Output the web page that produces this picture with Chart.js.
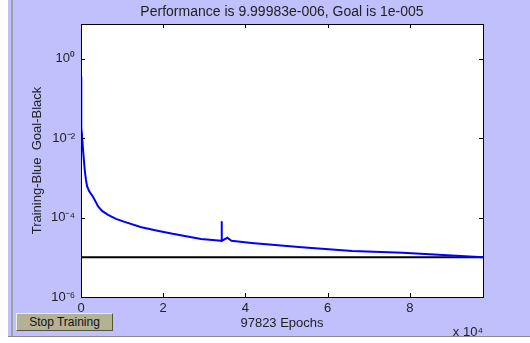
<!DOCTYPE html>
<html>
<head>
<meta charset="utf-8">
<script src="https://cdn.jsdelivr.net/npm/chart.js@4/dist/chart.umd.min.js"></script>
<style>
  html, body { margin: 0; padding: 0; background: #fff; }
  #frame { position: absolute; left: 0; top: 0; width: 530px; height: 343px; overflow: hidden; }
  #bg { position: absolute; left: 8px; top: 0; width: 522px; height: 336px; background: #c0c0fc;
        border-bottom: 1px solid #8a8a8a; }
  #edge { position: absolute; left: 11px; top: 0; width: 2px; height: 336px; background: #a0a0a8; }
  #chart { position: absolute; left: 0; top: 0; }
  #stop { position: absolute; left: 16px; top: 313px; width: 97px; height: 18px; box-sizing: border-box;
          background: #b4b294; border: 1px solid #55553f; border-left-color: #eeeedc; border-top-color: #eeeedc;
          font: 12px "Liberation Sans", Arial, sans-serif; color: #111; text-align: center; line-height: 16px; }
</style>
</head>
<body>
<div id="frame">
  <div id="bg"></div>
  <div id="edge"></div>
  <canvas id="chart" width="530" height="343"></canvas>
  <div id="stop">Stop Training</div>
</div>
<script>
// training record
const epochs = [0, 70, 250, 500, 900, 1200, 1470, 2000, 2950, 4170, 5200, 6600, 8500, 10800, 14700, 18900, 22300,
  29200, 34100, 34200, 34300, 35600, 36600, 41500, 53700, 66000, 78300, 88100, 97823];
const perf = [0.35, 0.018, 0.012, 0.005, 0.0016, 9e-4, 6.2e-4, 4.6e-4, 3.3e-4, 1.9e-4, 1.45e-4, 1.17e-4, 9.3e-5, 7.7e-5,
  5.7e-5, 4.6e-5, 3.9e-5, 2.9e-5, 2.6e-5, 8.1e-5, 2.6e-5, 3.1e-5, 2.6e-5, 2.3e-5, 1.8e-5, 1.45e-5, 1.3e-5, 1.15e-5,
  9.99983e-6];
const goalEpochs = [0, 97823];
const goalValues = [1e-5, 1e-5];
const xTicks = [0, 20000, 40000, 60000, 80000];
const yTicks = [1e-6, 1e-4, 1e-2, 1];
const sup = { '0': '⁰', '-2': '⁻²', '-4': '⁻⁴', '-6': '⁻⁶' };

const font = 'Liberation Sans';

// white axes background
const areaPlugin = {
  id: 'area',
  beforeDraw(chart) {
    const { ctx, chartArea: a } = chart;
    ctx.save();
    ctx.fillStyle = '#fff';
    ctx.fillRect(a.left, a.top, a.right - a.left, a.bottom - a.top);
    ctx.restore();
  }
};

// MATLAB-style box with inward tick marks, title and the x10^4 multiplier
const boxPlugin = {
  id: 'box',
  afterDraw(chart) {
    const { ctx, chartArea: a, scales } = chart;
    ctx.save();
    ctx.strokeStyle = '#000';
    ctx.lineWidth = 1;
    ctx.strokeRect(a.left + 0.5, a.top + 0.5, a.right - a.left, a.bottom - a.top);
    ctx.beginPath();
    xTicks.forEach(v => {
      const px = Math.round(scales.x.getPixelForValue(v)) + 0.5;
      ctx.moveTo(px, a.bottom); ctx.lineTo(px, a.bottom - 4);
      ctx.moveTo(px, a.top); ctx.lineTo(px, a.top + 4);
    });
    yTicks.forEach(v => {
      const py = Math.round(scales.y.getPixelForValue(v)) + 0.5;
      ctx.moveTo(a.left, py); ctx.lineTo(a.left + 4, py);
      ctx.moveTo(a.right, py); ctx.lineTo(a.right - 4, py);
    });
    ctx.stroke();
    ctx.fillStyle = '#222';
    ctx.font = '14px "' + font + '"';
    ctx.textAlign = 'center';
    ctx.textBaseline = 'middle';
    ctx.fillText('Performance is 9.99983e-006, Goal is 1e-005', (a.left + a.right) / 2, 12);
    ctx.font = '13px "' + font + '"';
    ctx.textAlign = 'right';
    ctx.textBaseline = 'alphabetic';
    ctx.fillText('x 10⁴', a.right, 336);
    ctx.restore();
  }
};

new Chart(document.getElementById('chart'), {
  type: 'line',
  data: {
    datasets: [{
      data: epochs.map((e, i) => ({ x: e, y: perf[i] })),
      borderColor: '#0000ff',
      borderWidth: 2,
      pointRadius: 0,
      tension: 0
    }, {
      data: goalEpochs.map((e, i) => ({ x: e, y: goalValues[i] })),
      borderColor: '#000',
      borderWidth: 2,
      pointRadius: 0
    }]
  },
  plugins: [areaPlugin, boxPlugin],
  options: {
    responsive: false,
    animation: false,
    layout: { padding: { left: 0, right: 47, top: 24, bottom: 0 } },
    plugins: {
      legend: { display: false },
      tooltip: { enabled: false },
      title: { display: false }
    },
    scales: {
      x: {
        type: 'linear',
        min: 0,
        max: 97823,
        afterBuildTicks: s => { s.ticks = xTicks.map(v => ({ value: v })); },
        afterFit: s => { s.height = 46; },
        grid: { display: false, drawTicks: false },
        border: { display: false },
        ticks: {
          color: '#222', padding: 4, maxRotation: 0,
          font: { family: font, size: 13 },
          callback: v => String(v / 10000)
        },
        title: {
          display: true, text: '97823 Epochs', color: '#222',
          font: { family: font, size: 13 }, padding: { bottom: 12 }
        }
      },
      y: {
        type: 'logarithmic',
        min: 1e-6,
        max: 7.5,
        afterBuildTicks: s => { s.ticks = yTicks.map(v => ({ value: v })); },
        afterFit: s => { s.width = 81; },
        grid: { display: false, drawTicks: false },
        border: { display: false },
        ticks: {
          color: '#222', padding: 6,
          font: { family: font, size: 13 },
          callback: v => '10' + sup[String(Math.round(Math.log10(v)))]
        },
        title: {
          display: true, text: 'Training-Blue  Goal-Black', color: '#222',
          font: { family: font, size: 13 }, padding: { top: 30 }
        }
      }
    }
  }
});
</script>
</body>
</html>
